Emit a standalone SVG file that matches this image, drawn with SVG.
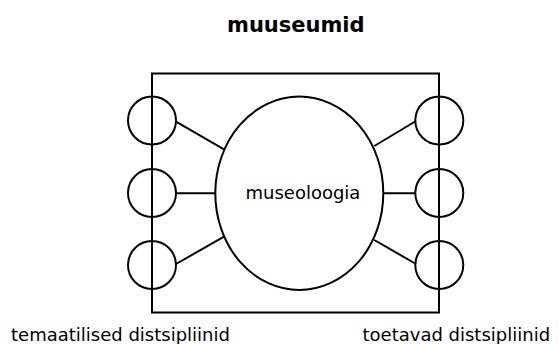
<svg xmlns="http://www.w3.org/2000/svg" width="558" height="344" viewBox="0 0 558 344">
<style>
.s{fill:none;stroke:#000;stroke-width:2}
.t{font-family:"DejaVu Sans",Verdana,sans-serif;font-size:18px;fill:#000}
.b{font-weight:bold;font-size:21px}
</style>
<rect x="0" y="0" width="558" height="344" fill="#fff"/>
<g id="title"><text class="t b" x="227" y="31.7">muuseumid</text></g>
<g id="frame"><rect class="s" x="152" y="73.5" width="287" height="239"/></g>
<g id="connectors">
<line class="s" x1="176" y1="121.7" x2="224" y2="149.3"/>
<line class="s" x1="176" y1="193.3" x2="215.3" y2="193.3"/>
<line class="s" x1="176" y1="264" x2="224" y2="236.7"/>
<line class="s" x1="374.3" y1="146" x2="416" y2="121"/>
<line class="s" x1="383.3" y1="193.3" x2="416" y2="193.3"/>
<line class="s" x1="374.3" y1="240" x2="416" y2="264"/>
</g>
<g id="center"><ellipse class="s" cx="299.3" cy="193.3" rx="84" ry="96.7"/><text class="t" x="245.5" y="199">museoloogia</text></g>
<g id="l1"><circle class="s" cx="152" cy="120.5" r="24"/></g>
<g id="l2"><circle class="s" cx="152" cy="193" r="24"/></g>
<g id="l3"><circle class="s" cx="152" cy="265" r="24"/></g>
<g id="r1"><circle class="s" cx="439.3" cy="120.5" r="24"/></g>
<g id="r2"><circle class="s" cx="439.3" cy="193" r="24"/></g>
<g id="r3"><circle class="s" cx="439.3" cy="265" r="24"/></g>
<g id="label-left"><text class="t" x="11" y="340.7">temaatilised distsipliinid</text></g>
<g id="label-right"><text class="t" x="362.5" y="340.7">toetavad distsipliinid</text></g>
</svg>
